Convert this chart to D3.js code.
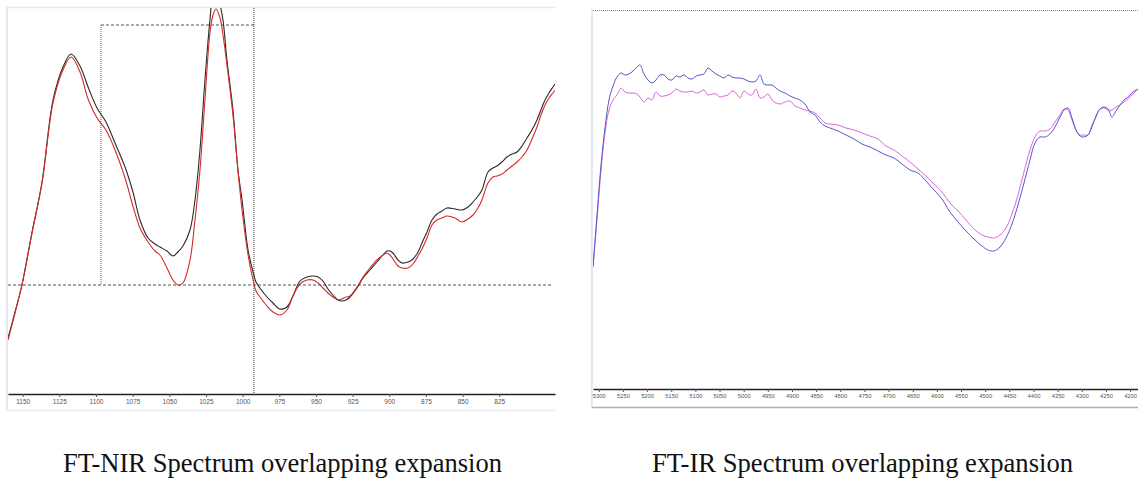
<!DOCTYPE html>
<html>
<head>
<meta charset="utf-8">
<script src="https://cdn.jsdelivr.net/npm/d3@7"></script>
<style>
  html, body { margin: 0; padding: 0; background: #fff; }
  svg { display: block; }
</style>
</head>
<body>
<svg id="chart" width="1138" height="479"></svg>
<script>
// ---------------- DATA ----------------
// FT-NIR (wavenumber, arbitrary absorbance units)
const nirWavenumber = [1160,1155.2,1150.5,1143.6,1136.8,1129.3,1122.5,1117.0,1110.9,1105.4,
  1099.3,1093.2,1087.0,1080.2,1074.8,1070.0,1064.5,1059.8,1056.4,1051.6,
  1047.5,1044.1,1040.7,1035.9,1032.5,1029.1,1025.7,1022.3,1020.2,1018.2,
  1015.4,1013.4,1010.7,1006.6,1003.2,1000.4,996.3,992.9,990.9,988.2,
  983.4,979.3,974.5,969.8,965.7,960.9,956.1,952.0,948.6,945.2,
  941.8,938.4,935.0,932.3,929.5,926.8,922.0,917.9,913.2,908.4,
  904.3,901.6,899.5,897.5,894.1,891.3,887.2,883.8,880.4,877.7,
  874.3,870.9,867.5,864.1,860.7,855.2,850.4,846.3,842.9,839.5,
  836.8,832.7,829.3,826.6,823.2,819.7,816.3,812.9,809.5,806.1,
  802.7,799.3,796.6,793.8,791.1,788.4,787.0];
const nirSampleA = [56,82,109,162,212,294,327,340,328,307,
  286,272,251,227,202,174,156,150,147,143,
  138,142,148,164,194,244,314,374,399,402,
  389,374,334,284,224,194,144,122,112,106,
  97,91,85,87,98,113,117,118,117,113,
  105,99,94,93,94,97,106,116,124,132,
  139,143,143,141,134,131,132,135,142,151,
  162,174,180,183,186,185,184,187,192,198,
  204,222,226,228,232,237,240,242,248,256,
  264,274,284,294,301,307,310];
const nirSampleB = [54,81,109,161,211,291,324,337,322,295,
  276,264,244,216,188,166,152,143,139,126,
  114,109,111,134,174,224,294,361,379,385,
  376,359,329,279,224,184,139,114,103,97,
  88,82,79,84,98,110,114,114,111,106,
  101,97,94,95,97,98,107,117,126,134,
  139,141,139,135,128,126,126,130,138,145,
  156,169,174,176,178,176,172,175,179,186,
  194,211,217,218,220,224,228,232,237,244,
  255,267,279,289,296,301,304];
const nirTicks = [1150,1125,1100,1075,1050,1025,1000,975,950,925,900,875,850,825];
const nirCursorX = [1096.6, 992.3];   // expansion box / cursor positions
const nirCursorY = [109, 369];

// FT-IR
const irWavenumber = [5312,5303.7,5295.4,5287.2,5278.9,5270.6,5262.3,5254.0,5245.7,5237.5,
  5229.2,5220.9,5214.7,5206.4,5198.1,5189.8,5181.6,5173.3,5165.0,5156.7,
  5148.4,5140.2,5131.9,5123.6,5115.3,5107.0,5098.7,5090.5,5082.2,5073.9,
  5065.6,5057.3,5049.1,5040.8,5032.5,5024.2,5015.9,5007.7,4999.4,4991.1,
  4982.8,4974.5,4966.2,4958.0,4949.7,4941.4,4933.1,4924.8,4914.5,4904.1,
  4893.8,4883.4,4873.1,4862.7,4852.4,4842.0,4831.7,4821.3,4804.8,4788.2,
  4771.6,4755.1,4738.5,4721.9,4705.4,4688.8,4672.2,4655.7,4639.1,4622.6,
  4606.0,4589.4,4572.9,4556.3,4539.7,4523.2,4506.6,4494.2,4481.8,4469.3,
  4456.9,4444.5,4432.1,4419.7,4407.2,4396.9,4386.5,4376.2,4365.8,4355.5,
  4345.1,4336.8,4328.6,4320.3,4312.0,4303.7,4295.4,4287.2,4278.9,4270.6,
  4262.3,4254.0,4245.7,4237.5,4229.2,4220.9,4212.6,4204.3,4196.1,4187.8,
  4183.6];
const irSampleA = [122,174,224,261,289,303,312,316,314,315,
  318,322,324,315,309,306,309,314,314,310,
  309,313,312,314,311,310,313,314,315,321,
  318,315,313,311,314,312,311,311,310,308,
  307,308,314,305,304,304,301,298,296,293,
  291,289,285,277,274,267,263,261,258,254,
  250,245,242,238,234,231,225,219,216,208,
  199,190,177,167,158,150,143,139,138,142,
  151,165,184,206,229,246,252,252,255,262,
  272,279,281,271,259,253,252,254,262,273,
  280,282,280,272,278,284,289,292,296,299,
  300];
const irSampleB = [122,169,219,256,279,289,294,301,297,296,
  296,295,292,287,291,289,297,293,293,294,
  296,300,298,297,297,298,296,297,299,294,
  295,295,292,293,294,298,296,291,298,295,
  294,300,291,292,295,289,286,285,287,288,
  283,281,279,278,276,271,266,265,264,261,
  259,256,253,250,243,239,233,227,220,213,
  205,197,186,178,169,160,154,152,151,154,
  161,175,194,217,239,252,258,258,260,267,
  274,280,279,269,259,254,254,254,264,272,
  280,281,279,279,282,284,287,290,294,298,
  299];
const irTicks = [5300,5250,5200,5150,5100,5050,5000,4950,4900,4850,4800,4750,
  4700,4650,4600,4550,4500,4450,4400,4350,4300,4250,4200];

const captions = ["FT-NIR Spectrum overlapping expansion", "FT-IR Spectrum overlapping expansion"];

// ---------------- DRAW ----------------
const svg = d3.select("#chart");

// ---- Left panel: FT-NIR ----
const L = { x0: 8, x1: 555, y0: 8, y1: 394 };
const xN = d3.scaleLinear().domain([1160, 787]).range([L.x0, L.x1]);
const yN = d3.scaleLinear().domain([0, 386]).range([L.y1, L.y0]);

svg.append("defs").append("clipPath").attr("id", "clipL")
  .append("rect").attr("x", L.x0).attr("y", L.y0).attr("width", L.x1 - L.x0).attr("height", L.y1 - L.y0);

// panel frame (light)
svg.append("line").attr("x1", 7).attr("x2", 7).attr("y1", 7).attr("y2", 411)
  .attr("stroke", "#e4eaf4").attr("stroke-width", 2);
svg.append("line").attr("x1", 7).attr("x2", 555).attr("y1", 7.5).attr("y2", 7.5)
  .attr("stroke", "#e4eaf4").attr("stroke-width", 1.5);
svg.append("line").attr("x1", 7).attr("x2", 555).attr("y1", 410.5).attr("y2", 410.5)
  .attr("stroke", "#e6e9ee").attr("stroke-width", 1.5);

// cursor / expansion guides
svg.append("line").attr("x1", L.x0).attr("x2", 553)
  .attr("y1", yN(nirCursorY[0])).attr("y2", yN(nirCursorY[0]))
  .attr("stroke", "#555").attr("stroke-width", 1).attr("stroke-dasharray", "3,2");
svg.append("line").attr("x1", xN(nirCursorX[0])).attr("x2", xN(nirCursorX[1]))
  .attr("y1", yN(nirCursorY[1])).attr("y2", yN(nirCursorY[1]))
  .attr("stroke", "#555").attr("stroke-width", 1).attr("stroke-dasharray", "3,2");
svg.append("line").attr("x1", xN(nirCursorX[0])).attr("x2", xN(nirCursorX[0]))
  .attr("y1", yN(nirCursorY[1])).attr("y2", yN(nirCursorY[0]))
  .attr("stroke", "#666").attr("stroke-width", 1).attr("stroke-dasharray", "1,1");
svg.append("line").attr("x1", xN(nirCursorX[1])).attr("x2", xN(nirCursorX[1]))
  .attr("y1", L.y0).attr("y2", L.y1)
  .attr("stroke", "#333").attr("stroke-width", 1).attr("stroke-dasharray", "1,1");

const lineN = (vals) => d3.line()
  .x((d, i) => xN(nirWavenumber[i]))
  .y(d => yN(d))
  .curve(d3.curveCatmullRom.alpha(0.5))(vals);

const gL = svg.append("g").attr("clip-path", "url(#clipL)");
gL.append("path").attr("d", lineN(nirSampleA)).attr("fill", "none")
  .attr("stroke", "#2a2a2a").attr("stroke-width", 1.1);
gL.append("path").attr("d", lineN(nirSampleB)).attr("fill", "none")
  .attr("stroke", "#d42a2a").attr("stroke-width", 1.1);

const axN = svg.append("g").attr("transform", `translate(0,${L.y1})`)
  .call(d3.axisBottom(xN).tickValues(nirTicks).tickSize(3).tickSizeOuter(0).tickFormat(d3.format("d")));
axN.select(".domain").attr("stroke", "#222").attr("stroke-width", 1.6);
axN.selectAll(".tick line").attr("stroke", "#555");
axN.selectAll(".tick text").attr("font-family", "Liberation Sans, Arial, sans-serif")
  .attr("font-size", 6.5).attr("fill", "#555").attr("dy", "0.55em");

// ---- Right panel: FT-IR ----
const R = { x0: 593, x1: 1138, y0: 11, y1: 389 };
const xI = d3.scaleLinear().domain([5312, 4183.6]).range([R.x0, R.x1]);
const yI = d3.scaleLinear().domain([0, 378]).range([R.y1, R.y0]);

svg.select("defs").append("clipPath").attr("id", "clipR")
  .append("rect").attr("x", R.x0).attr("y", R.y0).attr("width", R.x1 - R.x0).attr("height", R.y1 - R.y0);

svg.append("line").attr("x1", 592).attr("x2", 592).attr("y1", 9).attr("y2", 408)
  .attr("stroke", "#e4eaf4").attr("stroke-width", 2);
svg.append("line").attr("x1", 593).attr("x2", 1138).attr("y1", 10.5).attr("y2", 10.5)
  .attr("stroke", "#888").attr("stroke-width", 1).attr("stroke-dasharray", "1,1");
svg.append("line").attr("x1", 592).attr("x2", 1138).attr("y1", 407.5).attr("y2", 407.5)
  .attr("stroke", "#b0b0b0").attr("stroke-width", 1.5);

const lineI = (vals) => d3.line()
  .x((d, i) => xI(irWavenumber[i]))
  .y(d => yI(d))
  .curve(d3.curveCatmullRom.alpha(0.5))(vals);

const gR = svg.append("g").attr("clip-path", "url(#clipR)");
gR.append("path").attr("d", lineI(irSampleB)).attr("fill", "none")
  .attr("stroke", "#d76ad9").attr("stroke-width", 1);
gR.append("path").attr("d", lineI(irSampleA)).attr("fill", "none")
  .attr("stroke", "#5a58c8").attr("stroke-width", 1);

const axI = svg.append("g").attr("transform", `translate(0,${R.y1})`)
  .call(d3.axisBottom(xI).tickValues(irTicks).tickSize(3).tickSizeOuter(0).tickFormat(d3.format("d")));
axI.select(".domain").attr("stroke", "#222").attr("stroke-width", 1.4);
axI.selectAll(".tick line").attr("stroke", "#555");
axI.selectAll(".tick text").attr("font-family", "Liberation Sans, Arial, sans-serif")
  .attr("font-size", 5.8).attr("fill", "#555").attr("dy", "0.45em");

// ---- Captions ----
const capPos = [{ x: 63, w: 439 }, { x: 652, w: 421 }];
svg.selectAll("text.caption").data(captions).enter().append("text")
  .attr("class", "caption")
  .attr("x", (d, i) => capPos[i].x)
  .attr("y", 472)
  .attr("textLength", (d, i) => capPos[i].w)
  .attr("lengthAdjust", "spacingAndGlyphs")
  .attr("font-family", "Liberation Serif, DejaVu Serif, serif")
  .attr("font-size", 27)
  .attr("fill", "#111")
  .text(d => d);
</script>
</body>
</html>
